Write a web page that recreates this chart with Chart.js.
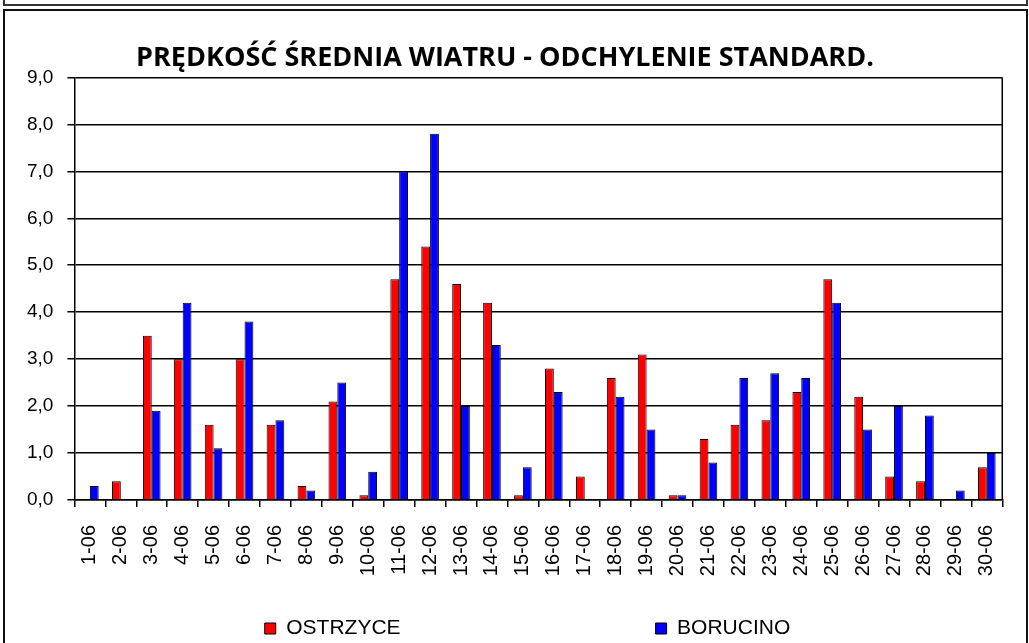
<!DOCTYPE html>
<html>
<head>
<meta charset="utf-8">
<script src="https://cdn.jsdelivr.net/npm/chart.js@4.4.1/dist/chart.umd.min.js"></script>
<style>
  html, body { margin: 0; padding: 0; background: #fff; overflow: hidden; }
  #wrap { position: relative; width: 1029px; height: 643px; }
  #chart { position: absolute; left: 0; top: 0; }
  .prev { position: absolute; left: 3px; top: -10px; width: 1021px; height: 12px; border: 2px solid #333; }
  .frame { position: absolute; left: 3px; top: 9px; width: 1021px; height: 650px; border: 2px solid #111; }
</style>
</head>
<body>
<div id="wrap">
  <div class="prev"></div>
  <div class="frame"></div>
  <canvas id="chart" width="1029" height="649"></canvas>
</div>
<script>
const categories = ["1-06", "2-06", "3-06", "4-06", "5-06", "6-06", "7-06", "8-06", "9-06", "10-06",
  "11-06", "12-06", "13-06", "14-06", "15-06", "16-06", "17-06", "18-06", "19-06", "20-06",
  "21-06", "22-06", "23-06", "24-06", "25-06", "26-06", "27-06", "28-06", "29-06", "30-06"];

const ostrzyce = [0, 0.4, 3.5, 3.0, 1.6, 3.0, 1.6, 0.3, 2.1, 0.1,
  4.7, 5.4, 4.6, 4.2, 0.1, 2.8, 0.5, 2.6, 3.1, 0.1,
  1.3, 1.6, 1.7, 2.3, 4.7, 2.2, 0.5, 0.4, 0, 0.7];

const borucino = [0.3, 0, 1.9, 4.2, 1.1, 3.8, 1.7, 0.2, 2.5, 0.6,
  7.0, 7.8, 2.0, 3.3, 0.7, 2.3, 0, 2.2, 1.5, 0.1,
  0.8, 2.6, 2.7, 2.6, 4.2, 1.5, 2.0, 1.8, 0.2, 1.0];

const yMin = 0;
const yMax = 9;
const yStep = 1;

// right border of the plot area + small legend nudge
const plotBorder = {
  id: "plotBorder",
  afterLayout(chart) {
    if (chart.legend) {
      chart.legend.left += 12;
      chart.legend.right += 12;
    }
  },
  afterDraw(chart) {
    const { ctx, chartArea } = chart;
    ctx.save();
    ctx.strokeStyle = "#000";
    ctx.lineWidth = 1.5;
    ctx.beginPath();
    ctx.moveTo(chartArea.right, chartArea.top);
    ctx.lineTo(chartArea.right, chartArea.bottom);
    ctx.stroke();
    ctx.restore();
  }
};

const ctx = document.getElementById("chart").getContext("2d");
new Chart(ctx, {
  type: "bar",
  data: {
    labels: categories,
    datasets: [
      {
        label: "OSTRZYCE",
        data: ostrzyce,
        backgroundColor: "#ff0000",
        borderColor: "#000",
        borderWidth: 1,
        categoryPercentage: 0.57,
        barPercentage: 1
      },
      {
        label: "BORUCINO",
        data: borucino,
        backgroundColor: "#0000ff",
        borderColor: "#000",
        borderWidth: 1,
        categoryPercentage: 0.57,
        barPercentage: 1
      }
    ]
  },
  options: {
    responsive: false,
    animation: false,
    layout: { padding: { left: 13, right: 11, top: 0, bottom: 0 } },
    plugins: {
      title: {
        display: true,
        // trailing spaces nudge the centred title a little to the left
        text: "PRĘDKOŚĆ ŚREDNIA WIATRU - ODCHYLENIE STANDARD.   ",
        color: "#000",
        font: { family: "'Open Sans'", size: 27, weight: "bold" },
        padding: { top: 42, bottom: 3 }
      },
      legend: {
        position: "bottom",
        labels: {
          color: "#000",
          font: { family: "'Liberation Sans', Arial", size: 21 },
          boxWidth: 11,
          boxHeight: 11,
          padding: 10,
          generateLabels(chart) {
            const items = Chart.defaults.plugins.legend.labels.generateLabels(chart);
            items[0].text = items[0].text + " ".repeat(42);
            return items;
          }
        }
      },
      tooltip: { enabled: false }
    },
    scales: {
      x: {
        grid: {
          offset: true,
          drawOnChartArea: false,
          color: "#000",
          lineWidth: 1.5,
          tickLength: 7
        },
        border: { color: "#000", width: 1.5 },
        ticks: {
          color: "#000",
          font: { family: "'Liberation Sans', Arial", size: 20 },
          minRotation: 90,
          maxRotation: 90,
          padding: 18,
          autoSkip: false
        },
        afterFit(scale) { scale.height = 108; }
      },
      y: {
        min: yMin,
        max: yMax,
        grid: { color: "#000", lineWidth: 1.5, tickLength: 7 },
        border: { color: "#000", width: 1.5 },
        ticks: {
          stepSize: yStep,
          color: "#000",
          padding: 14,
          font: { family: "'Liberation Sans', Arial", size: 19 },
          callback: v => v.toFixed(1).replace(".", ",")
        }
      }
    }
  },
  plugins: [plotBorder]
});
</script>
</body>
</html>
